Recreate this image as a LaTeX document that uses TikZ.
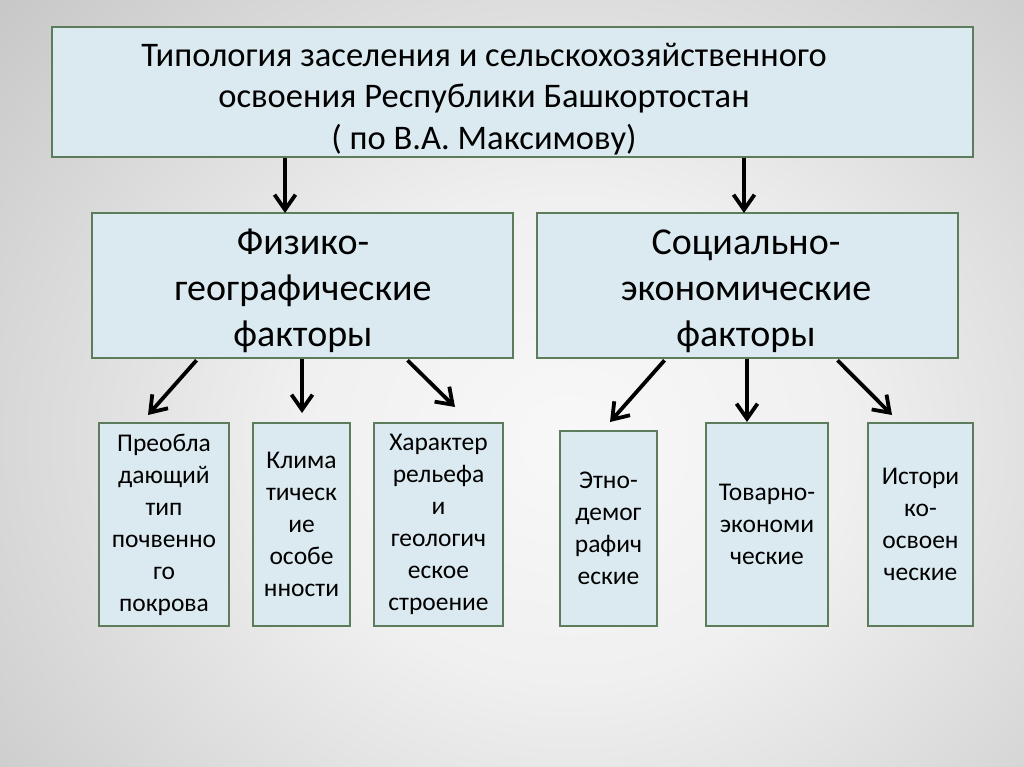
\documentclass[tikz,border=0pt]{standalone}
\usepackage{fontspec}
\setmainfont{Carlito}
\usetikzlibrary{arrows.meta}
\definecolor{bgc0}{RGB}{248,248,248}
\definecolor{bgc1}{RGB}{240,240,240}
\definecolor{bgc2}{RGB}{200,200,200}
\definecolor{bgc3}{RGB}{164,164,164}
\definecolor{bgc4}{RGB}{152,152,152}
\definecolor{boxfill}{RGB}{219,234,240}
\definecolor{boxdraw}{RGB}{92,124,92}
\pgfdeclareradialshading{bgshade}{\pgfpoint{0bp}{0bp}}{color(0bp)=(bgc0); color(12bp)=(bgc1); color(33bp)=(bgc2); color(50bp)=(bgc3); color(67bp)=(bgc4); color(75bp)=(bgc4)}
\tikzset{
  box/.style={draw=boxdraw, fill=boxfill, line width=2.6pt, rectangle, inner sep=0pt, align=center, text=black},
  smalltxt/.style={font=\fontsize{25.5}{32}\selectfont},
  midtxt/.style={font=\fontsize{38}{46}\selectfont, align=center},
  arr/.style={line width=3.8pt, -{Straight Barb[length=15pt,width=21pt]}}
}
\begin{document}
\begin{tikzpicture}[x=1pt,y=-1pt]
\useasboundingbox (0,0) rectangle (1024,767);
\begin{scope}
\clip (0,0) rectangle (1024,767);
\shade[shading=bgshade] (0,-60) rectangle (1140,940);
\end{scope}
% boxes
\node[box, minimum width=921pt, minimum height=130pt] (top) at (512.5,92) {};
\node[font=\fontsize{34.5}{41.5}\selectfont, align=center] (toptext) at (484,99) {Типология заселения и сельскохозяйственного\\освоения Республики Башкортостан\\( по В.А. Максимову)};
\node[box, minimum width=421pt, minimum height=145pt] (fiz) at (302.5,285.5) {};
\node[midtxt] (fiztext) at (303,291) {Физико-\\географические\\факторы};
\node[box, minimum width=421pt, minimum height=145pt] (soc) at (747.5,285.5) {};
\node[midtxt] (soctext) at (746,291) {Социально-\\экономические\\факторы};
\node[box, smalltxt, minimum width=130pt, minimum height=203pt] (b1) at (164,524.5) {Преобла\\дающий\\тип\\почвенно\\го\\покрова};
\node[box, smalltxt, minimum width=97pt, minimum height=203pt] (b2) at (301.5,524.5) {Клима\\тическ\\ие\\особе\\нности};
\node[box, smalltxt, minimum width=129pt, minimum height=203pt] (b3) at (438.5,524.5) {Характер\\рельефа\\и\\геологич\\еское\\строение};
\node[box, smalltxt, minimum width=97pt, minimum height=195pt] (b4) at (608.5,528.5) {Этно-\\демог\\рафич\\еские};
\node[box, smalltxt, minimum width=122pt, minimum height=203pt] (b5) at (767,524.5) {Товарно-\\экономи\\ческие};
\node[box, smalltxt, minimum width=105pt, minimum height=203pt] (b6) at (920.5,524.5) {Истори\\ко-\\освоен\\ческие};
% arrow tips
\coordinate (tA) at (285,213);
\coordinate (tB) at (744,213);
\coordinate (t1) at (148,415);
\coordinate (t2) at (302,413);
\coordinate (t3) at (455,407);
\coordinate (t4) at (610,422);
\coordinate (t5) at (747,422);
\coordinate (t6) at (892,415);
% arrows
\draw[arr] (top.south -| tA) -- (tA);
\draw[arr] (top.south -| tB) -- (tB);
\draw[arr] ([xshift=-106pt,yshift=-1pt]fiz.south) -- (t1);
\draw[arr] (fiz.south -| t2) -- (t2);
\draw[arr] ([xshift=105pt,yshift=-1pt]fiz.south) -- (t3);
\draw[arr] ([xshift=-83pt,yshift=-1pt]soc.south) -- (t4);
\draw[arr] (soc.south -| t5) -- (t5);
\draw[arr] ([xshift=90pt,yshift=-1pt]soc.south) -- (t6);
\end{tikzpicture}
\end{document}
